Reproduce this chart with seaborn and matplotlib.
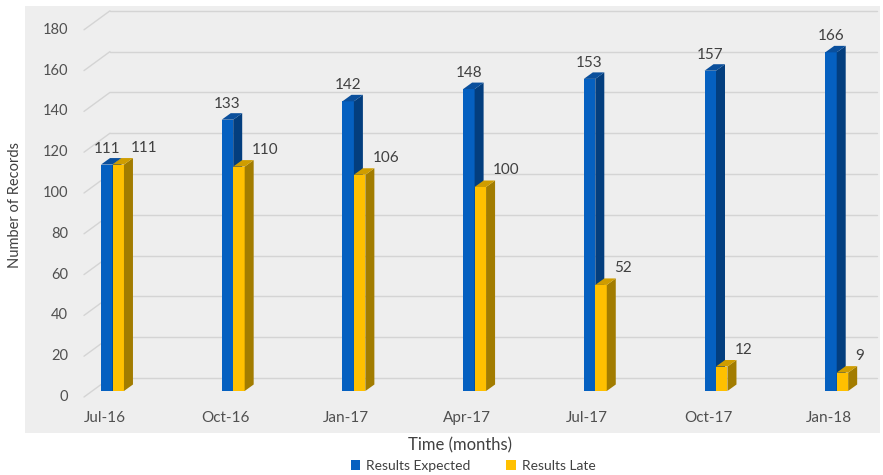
import pandas as pd
import matplotlib.pyplot as plt
from matplotlib.patches import Polygon, Rectangle, Patch
import seaborn as sns

# --- data ---
months = ['Jul-16', 'Oct-16', 'Jan-17', 'Apr-17', 'Jul-17', 'Oct-17', 'Jan-18']
expected = [111, 133, 142, 148, 153, 157, 166]
late = [111, 110, 106, 100, 52, 12, 9]
series = ['Results Expected', 'Results Late']
yticks = list(range(0, 181, 20))

df = pd.DataFrame({
    'month': months * 2,
    'series': [series[0]] * len(months) + [series[1]] * len(months),
    'records': expected + late,
})

# front / side / top colours for the fake 3D bars
front_col = {series[0]: '#0560c0', series[1]: '#ffc000'}
side_col = {series[0]: '#033e7e', series[1]: '#a27c00'}
top_col = {series[0]: '#0a4f9c', series[1]: '#cf9d00'}

sns.set_style('white')
plt.rcParams['font.family'] = ['Lato', 'DejaVu Sans']
txt_col = '#404040'
tick_col = '#505050'
grid_col = '#d4d4d4'

W, H = 883, 475
fig = plt.figure(figsize=(W / 100, H / 100), dpi=100)
fig.patches.append(Rectangle((25 / W, 1 - 433 / H), 855 / W, 427 / H,
                             transform=fig.transFigure, facecolor='#eeeeee',
                             edgecolor='none', zorder=-5))

# axes = plane of the bar fronts
ax_left, ax_right = 92, 859
y0_px = 391
y180_px = y0_px - 180 * 2.04
ax = fig.add_axes([ax_left / W, 1 - y0_px / H,
                   (ax_right - ax_left) / W, (y0_px - y180_px) / H])

sns.barplot(data=df, x='month', y='records', hue='series', hue_order=series,
            palette=front_col, width=0.19, saturation=1, linewidth=0,
            legend=False, ax=ax)

xl0 = (ax_left - 112.5) / 120.7
xl1 = xl0 + (ax_right - ax_left) / 120.7
ax.set_xlim(xl0, xl1)
ax.set_ylim(0, 180)
ax.set_axis_off()

sx = ax.bbox.width / (xl1 - xl0)
sy = ax.bbox.height / 180.0


def off(dx, dy):
    # pixel offset -> data offset
    return dx / sx, dy / sy


# --- walls: back gridlines + side diagonals ---
bx, by = off(18, 13)
fx, fy = off(-8, -6)
for v in yticks:
    ax.plot([xl0 + bx, xl1 + bx], [v + by, v + by], color=grid_col, lw=1,
            zorder=1, clip_on=False)
    ax.plot([xl0 + fx, xl0 + bx], [v + fy, v + by], color=grid_col, lw=1,
            zorder=1, clip_on=False)
    ax.text(xl0 + fx - off(16, 0)[0], v + fy, str(v), ha='right', va='center',
            fontsize=10.5, color=tick_col)

for i, m in enumerate(months):
    ax.text(i + fx, -27 / sy, m, ha='center', va='center', fontsize=11,
            color=tick_col, clip_on=False)

# --- 3D faces and value labels ---
dx, dy = off(9, 6.5)
for k, cont in enumerate(ax.containers):
    s = series[k]
    for bar in cont:
        x, w, h = bar.get_x(), bar.get_width(), bar.get_height()
        bar.set_zorder(2 + 2 * k)
        side = Polygon([(x + w, 0), (x + w + dx, dy), (x + w + dx, h + dy), (x + w, h)],
                       closed=True, facecolor=side_col[s], edgecolor='none',
                       zorder=2.5 + 2 * k, clip_on=False)
        top = Polygon([(x, h), (x + dx, h + dy), (x + w + dx, h + dy), (x + w, h)],
                      closed=True, facecolor=top_col[s], edgecolor='none',
                      zorder=2.5 + 2 * k, clip_on=False)
        ax.add_patch(side)
        ax.add_patch(top)
        if k == 0:
            ax.text(x + w / 2, h + 16 / sy, f'{int(h)}', ha='center', va='center',
                    fontsize=11, color=txt_col, clip_on=False)
        else:
            ax.text(x + w + dx - 2 / sx, h + 17 / sy, f'{int(h)}', ha='left',
                    va='center', fontsize=11, color=txt_col, clip_on=False)

# --- titles and legend ---
fig.text(15 / W, 1 - 205 / H, 'Number of Records', rotation=90, ha='center',
         va='center', fontsize=10.5, color=txt_col)
fig.text(460 / W, 1 - 445 / H, 'Time (months)', ha='center', va='center',
         fontsize=12, color=txt_col)

handles = [Patch(facecolor=front_col[s], edgecolor='none') for s in series]
fig.legend(handles, series, loc='center', bbox_to_anchor=(473 / W, 1 - 466 / H),
           ncol=2, frameon=False, fontsize=10, handlelength=0.7, handleheight=0.7,
           handletextpad=0.4, columnspacing=2.6, labelcolor=txt_col)

fig.savefig('out.png', dpi=100)
